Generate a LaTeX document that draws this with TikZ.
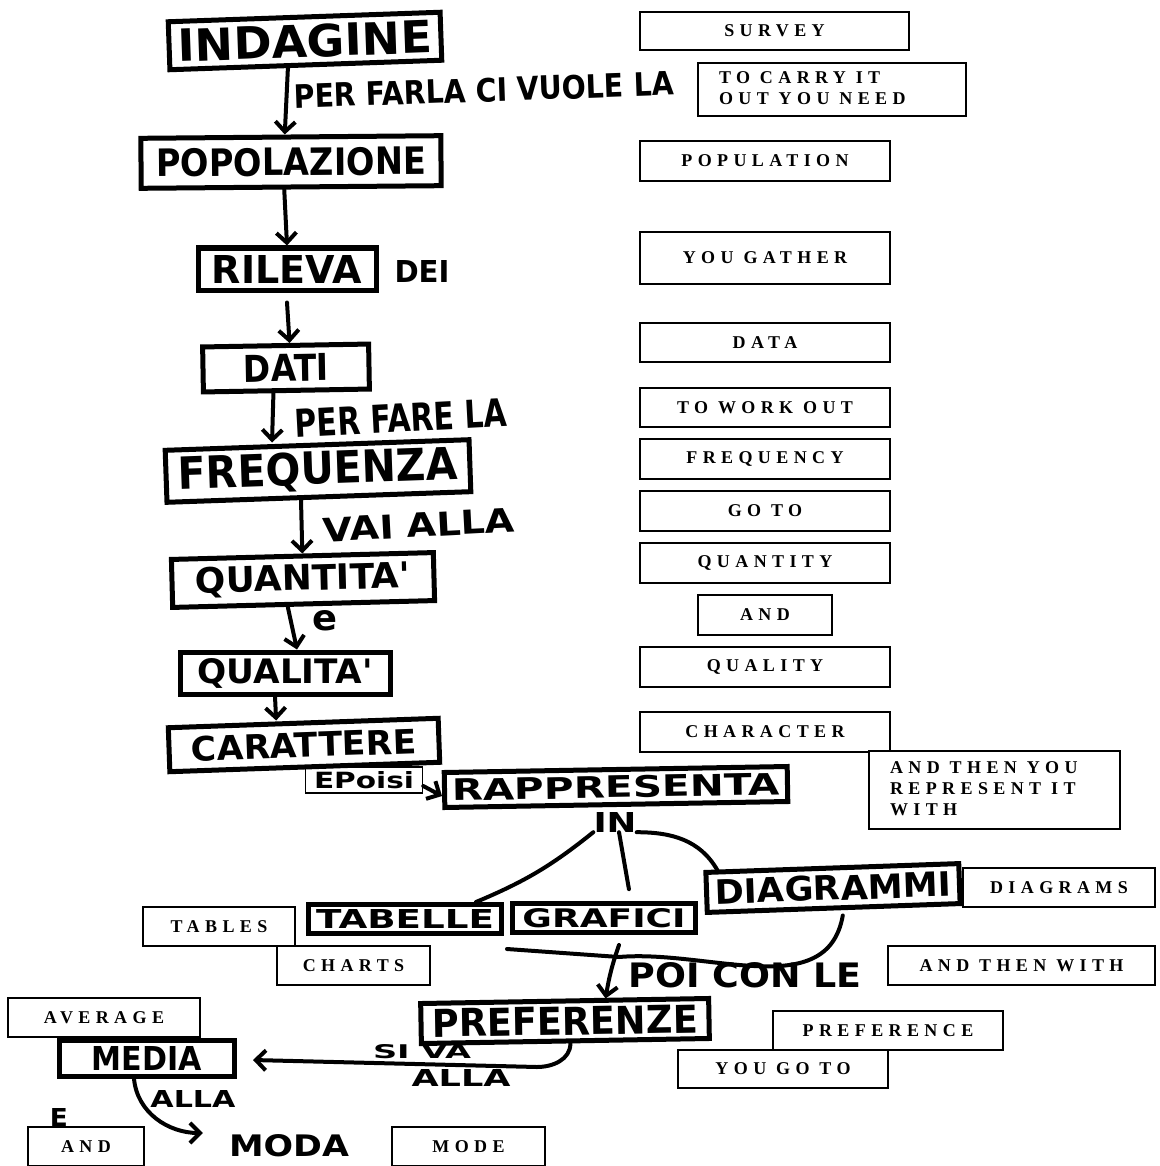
\documentclass[tikz,border=0pt]{standalone}
\usepackage{fontspec}
\newfontfamily\transfont[LetterSpace=30]{Liberation Serif}
\newfontfamily\handfont{DejaVu Sans}
\usepackage{graphicx}
\usepackage{tikz}
\usetikzlibrary{arrows.meta,calc}
\newcommand{\scrawl}[3]{\resizebox{#1pt}{#2pt}{\handfont\bfseries #3}}
\newcommand{\leftlines}[2]{\makebox[#1pt][l]{\begin{tabular}{@{}l@{}}#2\end{tabular}}}

\begin{document}
\begin{tikzpicture}[
  x=1pt,y=-1pt,
  hand/.style={draw,line width=5pt,fill=white,inner sep=0pt},
  note/.style={inner sep=0pt},
  trans/.style={draw,line width=1.5pt,fill=white,inner sep=0pt,font=\transfont\bfseries\fontsize{18}{21}\selectfont},
  transleft/.style={trans,inner xsep=21pt},
  stroke/.style={line width=4pt,line cap=round},
  link/.style={stroke,-{Straight Barb[length=10pt,width=20pt]}}
]
  \useasboundingbox (0,0) rectangle (1159,1166);

  \node[hand,rotate=2,minimum width=272pt,minimum height=48pt] (indagine) at (305,41) {\scrawl{254}{33}{INDAGINE}};
  \node[hand,rotate=0.5,minimum width=300pt,minimum height=50pt] (popol) at (291,162) {\scrawl{270}{28}{POPOLAZIONE}};
  \node[hand,minimum width=178pt,minimum height=42pt] (rileva) at (287,269) {\scrawl{150}{28}{RILEVA}};
  \node[hand,rotate=1,minimum width=166pt,minimum height=45pt] (dati) at (286,368) {\scrawl{85}{27}{DATI}};
  \node[hand,rotate=2,minimum width=304pt,minimum height=52pt] (freq) at (318,471) {\scrawl{280}{33}{FREQUENZA}};
  \node[hand,rotate=1.5,minimum width=262pt,minimum height=48pt] (quant) at (303,580) {\scrawl{215}{26}{QUANTITA'}};
  \node[hand,minimum width=210pt,minimum height=42pt] (qual) at (285,673) {\scrawl{175}{25}{QUALITA'}};
  \node[hand,rotate=2,minimum width=270pt,minimum height=44pt] (caratt) at (304,745) {\scrawl{225}{25}{CARATTERE}};
  \node[hand,rotate=1,minimum width=343pt,minimum height=35pt] (rappr) at (616,787) {\scrawl{328}{22}{RAPPRESENTA}};
  \node[hand,minimum width=193pt,minimum height=29pt] (tab) at (405,919) {\scrawl{178}{19}{TABELLE}};
  \node[hand,minimum width=183pt,minimum height=29pt] (graf) at (604,918) {\scrawl{163}{19}{GRAFICI}};
  \node[hand,rotate=2,minimum width=253pt,minimum height=40pt] (diag) at (833,888) {\scrawl{236}{25}{DIAGRAMMI}};
  \node[hand,rotate=1,minimum width=288pt,minimum height=40pt] (pref) at (565,1021) {\scrawl{266}{28}{PREFERENZE}};
  \node[hand,minimum width=175pt,minimum height=36pt] (media) at (147,1058) {\scrawl{110}{24}{MEDIA}};
  \node[note] (moda) at (289,1146) {\scrawl{120}{22}{MODA}};

  \node[note,rotate=2] (lfarla) at (484,90) {\scrawl{380}{24}{PER FARLA CI VUOLE LA}};
  \node[note] (ldei) at (422,271) {\scrawl{55}{22}{DEI}};
  \node[note,rotate=3] (lfare) at (401,418) {\scrawl{212}{28}{PER FARE LA}};
  \node[note,rotate=3] (lvai) at (419,525) {\scrawl{192}{24}{VAI ALLA}};
  \node[note] (le) at (325,621) {\scrawl{25}{20}{e}};
  \node[draw,line width=1.5pt,inner sep=0pt,minimum width=117pt,minimum height=26pt] (lpoisi) at (364,780) {\scrawl{100}{17}{EPoisi}};
  \node[note] (lin) at (615,822) {\scrawl{43}{20}{IN}};
  \node[note] (lpoi) at (745,975) {\scrawl{233}{25}{POI CON LE}};
  \node[note] (lsiva) at (422,1052) {\scrawl{98}{14}{SI VA}};
  \node[note] (lalla) at (461,1078) {\scrawl{99}{17}{ALLA}};
  \node[note] (lmedalla) at (193,1099) {\scrawl{85}{17}{ALLA}};
  \node[note] (lande) at (59,1117) {\scrawl{18}{18}{E}};

  \node[trans,minimum width=269pt,minimum height=38pt] (survey) at (774.5,31) {SURVEY};
  \node[transleft,minimum height=53pt] (carry) at (832,89.5) {\leftlines{226}{TO CARRY IT\\OUT YOU NEED}};
  \node[trans,minimum width=250pt,minimum height=40pt] (population) at (765,161) {POPULATION};
  \node[trans,minimum width=250pt,minimum height=52pt] (gather) at (765,258) {YOU GATHER};
  \node[trans,minimum width=250pt,minimum height=39pt] (data) at (765,342.5) {DATA};
  \node[trans,minimum width=250pt,minimum height=39pt] (workout) at (765,407.5) {TO WORK OUT};
  \node[trans,minimum width=250pt,minimum height=40pt] (frequency) at (765,459) {FREQUENCY};
  \node[trans,minimum width=250pt,minimum height=40pt] (goto) at (765,511) {GO TO};
  \node[trans,minimum width=250pt,minimum height=40pt] (quantity) at (765,563) {QUANTITY};
  \node[trans,minimum width=134pt,minimum height=40pt] (andq) at (765,615) {AND};
  \node[trans,minimum width=250pt,minimum height=40pt] (quality) at (765,667) {QUALITY};
  \node[trans,minimum width=250pt,minimum height=40pt] (character) at (765,732) {CHARACTER};
  \node[transleft,minimum height=78pt] (represent) at (994.5,790) {\leftlines{209}{AND THEN YOU\\REPRESENT IT\\WITH}};
  \node[trans,minimum width=192pt,minimum height=39pt] (diagrams) at (1059,887.5) {DIAGRAMS};
  \node[trans,minimum width=152pt,minimum height=39pt] (tables) at (219,926.5) {TABLES};
  \node[trans,minimum width=153pt,minimum height=39pt] (charts) at (353.5,965.5) {CHARTS};
  \node[trans,minimum width=267pt,minimum height=39pt] (thenwith) at (1021.5,965.5) {AND THEN WITH};
  \node[trans,minimum width=192pt,minimum height=39pt] (average) at (104,1017.5) {AVERAGE};
  \node[trans,minimum width=230pt,minimum height=39pt] (preference) at (888,1030.5) {PREFERENCE};
  \node[trans,minimum width=210pt,minimum height=38pt] (yougoto) at (783,1069) {YOU GO TO};
  \node[trans,minimum width=116pt,minimum height=39pt] (andmoda) at (86,1146.5) {AND};
  \node[trans,minimum width=153pt,minimum height=39pt] (mode) at (468.5,1146.5) {MODE};

  \draw[link] ([xshift=-18pt]indagine.south) -- ([xshift=-6pt]popol.north);
  \draw[link] ([xshift=-7pt]popol.south) -- (rileva.north);
  \draw[link] ([yshift=-10pt]rileva.south) -- ([xshift=4pt]dati.north);
  \draw[link] ([xshift=-13pt]dati.south) -- ([xshift=-45pt]freq.north);
  \draw[link] ([xshift=-18pt]freq.south) -- (quant.north);
  \draw[link] ([xshift=-16pt]quant.south) -- ([xshift=12pt]qual.north);
  \draw[link] ([xshift=-10pt]qual.south) -- ([xshift=-27pt]caratt.north);
  \draw[link] ([yshift=-6pt]lpoisi.east) -- ([yshift=-6pt]rappr.west);

  \draw[stroke] (lin.south west) to[bend left=8] ([xshift=-28pt]tab.north east);
  \draw[stroke,shorten >=12pt] ([xshift=4pt]lin.south) -- ([xshift=27pt]graf.north);
  \draw[stroke] (lin.south east) to[out=0,in=120] ([xshift=14pt]diag.north west);

  \coordinate (join) at (619,957);
  \draw[stroke] ([xshift=3pt,yshift=-13pt]tab.south east) -- (join);
  \draw[stroke] ([xshift=9pt,yshift=-5pt]diag.south) to[out=-100,in=5] (join);
  \draw[link] ([xshift=15pt,yshift=-10pt]graf.south) to[bend right=5] ([xshift=41pt]pref.north);

  \coordinate (hook) at (537,1067);
  \draw[link] ([xshift=5pt]pref.south) to[out=-90,in=0] (hook) -- ([xshift=16pt,yshift=-2pt]media.east);
  \draw[link] ([xshift=-13pt]media.south) to[out=-85,in=180] ([xshift=-26pt,yshift=13pt]moda.west);
\end{tikzpicture}
\end{document}
